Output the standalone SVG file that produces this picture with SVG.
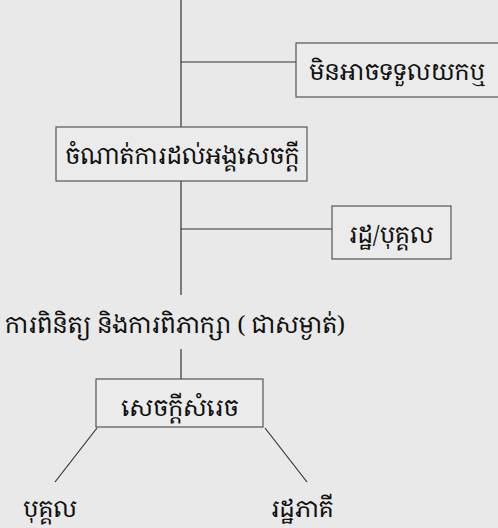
<svg xmlns="http://www.w3.org/2000/svg" width="498" height="528" viewBox="0 0 498 528">
<style>
.bg{fill:#e9e9e9}
.box{fill:#ebebeb;stroke:#555;stroke-width:1.2}
.ln{stroke:#333;stroke-width:1.2;fill:none}
.t{font-family:"Noto Serif Khmer","Khmer OS","Noto Sans Khmer","Noto Sans","DejaVu Sans",sans-serif;font-size:23.5px;fill:#111}
</style>
<rect class="bg" x="0" y="0" width="498" height="528"/>
<g id="connectors">
<line class="ln" x1="181" y1="0" x2="181" y2="295"/>
<line class="ln" x1="181" y1="62" x2="296" y2="62"/>
<line class="ln" x1="181" y1="229" x2="332" y2="229"/>
<line class="ln" x1="181" y1="349" x2="181" y2="379"/>
<line class="ln" x1="97" y1="428" x2="55" y2="482"/>
<line class="ln" x1="265" y1="428" x2="307" y2="482"/>
</g>
<g id="n1">
<rect class="box" x="296" y="43" width="210" height="54"/>
<text class="t" x="309" y="80">មិនអាចទទួលយកឬ</text>
</g>
<g id="n2">
<rect class="box" x="56" y="127" width="251" height="54"/>
<text class="t" x="182" y="164" text-anchor="middle">ចំណាត់ការដល់អង្គសេចក្តី</text>
</g>
<g id="n3">
<rect class="box" x="332" y="206" width="119" height="53"/>
<text class="t" x="391" y="243" text-anchor="middle">រដ្ឋ/បុគ្គល</text>
</g>
<g id="n4">
<text class="t" x="5" y="333">ការពិនិត្យ និងការពិភាក្សា ( ជាសម្ងាត់)</text>
</g>
<g id="n5">
<rect class="box" x="96" y="379" width="167" height="48"/>
<text class="t" x="180" y="416" text-anchor="middle">សេចក្តីសំរេច</text>
</g>
<g id="n6">
<text class="t" x="50" y="517" text-anchor="middle">បុគ្គល</text>
</g>
<g id="n7">
<text class="t" x="302" y="517" text-anchor="middle">រដ្ឋភាគី</text>
</g>
</svg>
